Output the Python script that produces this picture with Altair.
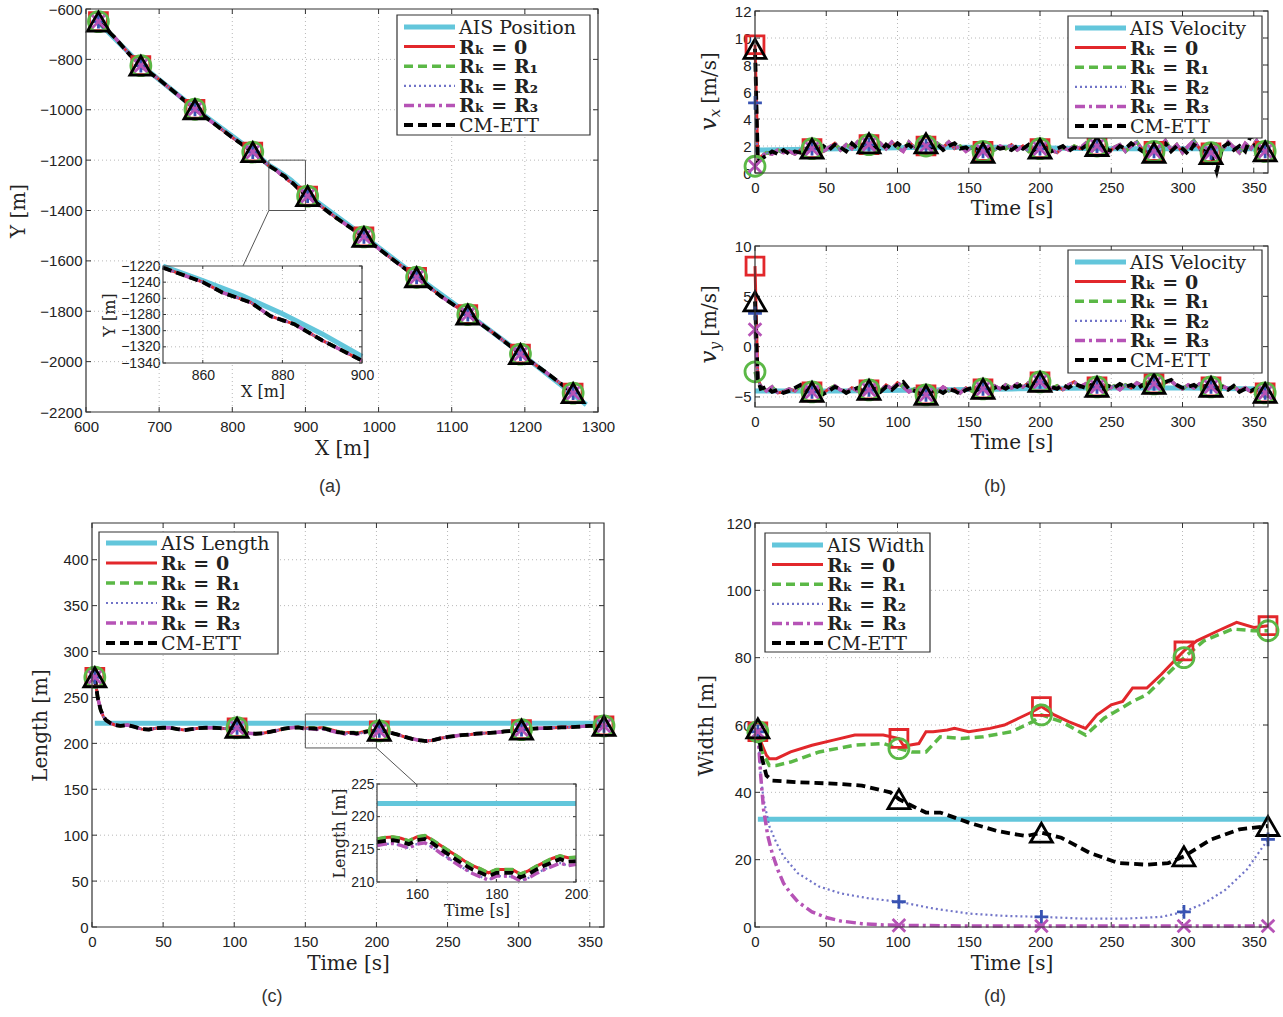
import altair as alt
import pandas as pd

SERIF = "DejaVu Serif"
SANS = "Liberation Sans"
INK = "#222222"
GRID = "#b8b8b8"
FRAME = "#333333"
CANVAS_W, CANVAS_H = 1283, 1017

# ---------------------------------------------------------------- styles
SERIES = ["AIS", "R0", "R1", "R2", "R3", "CM"]
EST = ["R0", "R1", "R2", "R3", "CM"]
COLOR = {"AIS": "#63c6db", "R0": "#e2272b", "R1": "#5bb846",
         "R2": "#7174c8", "R3": "#b653b6", "CM": "#000000"}
DASH = {"R1": [9, 5], "R2": [2, 3], "R3": [10, 4, 3, 4], "CM": [9, 5]}
WIDTH = {"AIS": 5, "R0": 3, "R1": 3.5, "R2": 2.2, "R3": 3.5, "CM": 3.8}
LABEL = {"R0": "Rₖ = 0", "R1": "Rₖ = R₁", "R2": "Rₖ = R₂",
         "R3": "Rₖ = R₃", "CM": "CM-ETT"}
MARK_SHAPE = {"R0": "square", "R1": "circle", "R2": "M-1,0L1,0M0,-1L0,1",
              "R3": "M-1,-1L1,1M-1,1L1,-1", "CM": "triangle-up"}
MARK_COLOR = {"R0": "#e2272b", "R1": "#5bb846", "R2": "#3853b3",
              "R3": "#b653b6", "CM": "#000000"}
MARK_SIZE = {"R0": 320, "R1": 400, "R2": 190, "R3": 160, "CM": 480}

# ---------------------------------------------------------------- (a) position
AIS_X = [612, 675, 749, 828, 850, 860, 870, 880, 890, 900, 980, 1052, 1122, 1194, 1284]
AIS_Y = [-638, -822, -995, -1165, -1220, -1238, -1257, -1279, -1304, -1332, -1502,
         -1662, -1810, -1967, -2171]
EST_X = [617, 640, 660, 675, 700, 725, 749, 775, 800, 828, 850, 860, 865, 872, 877,
         883, 890, 900, 903, 940, 980, 1015, 1052, 1085, 1122, 1160, 1194, 1230, 1266]
EST_Y = [-650, -715, -782, -825, -880, -940, -998, -1055, -1110, -1168, -1222, -1240,
         -1253, -1265, -1282, -1292, -1312, -1337, -1343, -1425, -1505, -1585, -1665,
         -1740, -1813, -1893, -1970, -2045, -2125]
MARK_X_A = [617, 675, 749, 828, 903, 980, 1052, 1122, 1194, 1266]

# ---------------------------------------------------------------- (b) velocity
TIME_B = [0, 2] + list(range(4, 357, 4)) + [358]
MARK_T_B = [0, 40, 80, 120, 160, 200, 240, 280, 320, 358]
T_AIS_B = [0, 60, 120, 180, 240, 300, 358]
VX_AIS = [1.7, 1.8, 1.9, 1.9, 1.8, 1.8, 1.8]
VY_AIS = [-4.4, -4.4, -4.3, -4.2, -4.1, -4.1, -4.2]
# first two samples (t = 0 s, 2 s) of each estimate
VX_START = {"R0": [9.5, 1.0], "R1": [0.5, 0.8], "R2": [5.2, 0.9], "R3": [0.5, 0.8], "CM": [9.2, 0.9]}
VY_START = {"R0": [8.0, -3.2], "R1": [-2.5, -3.6], "R2": [3.3, -3.4], "R3": [1.7, -3.5], "CM": [4.5, -3.3]}
VX_EST = [1.2, 1.5, 1.4, 1.7, 1.5, 1.6, 1.4, 1.7, 1.5, 1.8,
          2.0, 1.6, 1.9, 2.2, 1.7, 2.1, 1.8, 2.3, 1.9, 2.1,
          1.7, 2.2, 1.8, 2.3, 1.9, 1.6, 2.3, 1.9, 2.2, 2.0,
          1.7, 2.2, 1.9, 2.3, 1.8, 2.0, 1.6, 1.9, 1.5, 1.6,
          1.9, 1.7, 2.0, 1.8, 2.1, 1.7, 2.0, 1.6, 1.9, 1.8,
          2.1, 1.7, 1.5, 1.9, 1.7, 2.0, 1.8, 2.2, 1.6, 2.0,
          1.8, 1.5, 1.9, 2.1, 1.6, 2.0, 2.3, 1.7, 1.4, 1.6,
          2.0, 2.4, 1.7, 2.1, 1.5, 2.0, 2.4, 1.8, 1.3, 1.5,
          2.1, 1.7, 2.3, 1.9, 1.5, 2.2, 1.8, 2.4, 1.7,
          1.6]
VX_CM = [1.0, 1.3, 1.6, 1.4, 1.7, 1.4, 1.6, 1.5, 1.8, 1.8,
         1.6, 2.0, 1.7, 2.1, 1.9, 1.6, 2.2, 1.8, 2.1, 2.2,
         1.9, 1.6, 2.1, 1.8, 2.2, 1.9, 2.1, 1.7, 2.3, 2.2,
         1.9, 2.1, 1.7, 2.0, 2.2, 1.8, 1.9, 1.6, 1.8, 1.5,
         1.7, 2.0, 1.8, 1.9, 1.7, 2.0, 1.8, 2.1, 1.7, 1.8,
         1.9, 1.6, 1.8, 2.0, 1.6, 1.9, 1.7, 2.0, 1.8, 2.0,
         2.2, 1.7, 1.6, 2.0, 1.8, 2.2, 1.9, 1.6, 1.8, 1.5,
         1.9, 2.2, 1.6, 2.0, 1.8, 1.4, 2.1, 1.8, 1.6, 1.4,
         0.1, 1.9, 2.2, 1.7, 2.0, 1.6, 2.8, 1.8, 2.0,
         1.6]
VY_EST = [-3.9, -4.4, -4.0, -4.6, -4.5, -4.2, -4.4, -3.9, -4.3, -4.5,
          -4.1, -4.6, -4.2, -3.9, -4.3, -4.5, -4.1, -4.4, -4.6, -4.3,
          -4.0, -4.4, -3.8, -4.2, -3.6, -4.0, -4.5, -4.2, -4.6, -4.8,
          -4.3, -4.5, -4.0, -4.4, -4.2, -4.6, -4.1, -4.4, -4.0, -4.2,
          -4.4, -3.9, -4.2, -3.8, -4.1, -3.7, -4.0, -3.6, -3.9, -3.5,
          -3.8, -4.2, -3.9, -4.3, -3.8, -3.5, -4.0, -3.7, -4.2, -4.0,
          -3.8, -4.2, -3.9, -4.3, -3.8, -4.1, -3.6, -3.9, -3.5, -3.7,
          -4.0, -3.6, -3.4, -3.9, -4.2, -3.8, -4.1, -3.7, -4.0, -4.0,
          -4.3, -3.9, -4.2, -4.0, -4.4, -4.1, -4.5, -4.2, -4.6,
          -4.6]
VY_CM = [-4.2, -4.0, -4.5, -4.3, -4.6, -4.4, -4.1, -3.8, -4.4, -4.5,
         -4.3, -4.7, -4.4, -4.0, -4.2, -4.6, -4.3, -4.1, -4.5, -4.3,
         -4.2, -4.5, -4.0, -4.3, -3.8, -3.5, -4.2, -4.4, -4.7, -4.8,
         -4.5, -4.3, -4.6, -4.2, -4.4, -4.7, -4.3, -4.1, -4.3, -4.2,
         -4.5, -4.1, -3.9, -4.2, -3.8, -4.0, -3.7, -3.9, -3.6, -3.5,
         -3.7, -4.0, -4.2, -3.8, -4.1, -3.7, -3.9, -4.1, -3.8, -4.0,
         -4.2, -3.9, -4.1, -3.7, -4.0, -3.8, -4.2, -3.8, -3.6, -3.7,
         -3.9, -3.5, -3.3, -3.8, -4.1, -4.0, -3.8, -4.2, -3.9, -4.0,
         -4.2, -4.0, -4.3, -3.9, -4.5, -4.2, -4.4, -4.1, -4.5,
         -4.6]

# ---------------------------------------------------------------- (c) length
T_AIS_L = [2, 150, 200, 360]
LEN_AIS = [222, 222, 222, 222]
LEN_T_HEAD = [2, 4, 6, 8, 10, 13, 16, 20, 25, 30, 35, 40, 45, 50, 55, 60, 65, 70, 75, 80,
              85, 90, 95, 102, 105, 110, 115, 120, 125, 130, 135, 140, 145]
LEN_HEAD = [272, 250, 237, 229, 225, 222, 220, 219, 220, 218, 215.5, 215, 216.5, 217, 217,
            215.5, 214.5, 215.5, 216.5, 217, 217, 216.5, 216, 217, 214, 211, 210.5, 211,
            212.5, 214, 216, 217, 217.5]
LEN_T_MID = [150, 152, 154, 156, 158, 160, 162, 164, 166, 168, 170, 172, 174, 176, 178,
             180, 182, 184, 186, 188, 190, 192, 194, 196, 198, 200]
LEN_MID_HI = [216.6, 216.8, 216.9, 216.7, 216.3, 216.9, 217.1, 216.4, 215.6, 214.8, 214.0,
              213.2, 212.5, 212.0, 211.4, 211.9, 211.9, 211.9, 211.2, 211.7, 212.4, 213.0,
              213.6, 214.0, 213.7, 213.8]
LEN_MID_CM = [216.1, 216.3, 216.4, 216.2, 215.8, 216.4, 216.6, 215.9, 215.0, 214.2, 213.4,
              212.6, 211.9, 211.4, 210.9, 211.4, 211.4, 211.4, 210.7, 211.2, 211.9, 212.5,
              213.0, 213.5, 213.1, 213.2]
LEN_MID_LO = [215.6, 215.8, 215.9, 215.6, 215.2, 215.8, 216.0, 215.3, 214.4, 213.6, 212.8,
              212.0, 211.3, 210.8, 210.3, 210.9, 210.9, 210.8, 210.2, 210.6, 211.3, 211.9,
              212.4, 212.9, 212.5, 212.7]
LEN_T_TAIL = [202, 205, 210, 215, 220, 225, 230, 235, 240, 245, 250, 255, 260, 265, 270,
              275, 280, 285, 290, 295, 302, 305, 310, 315, 320, 325, 330, 335, 340, 345,
              350, 355, 360]
LEN_TAIL = [213.6, 213.5, 211.5, 209.5, 207, 205, 203.5, 202.5, 203.5, 205.5, 207, 208,
            209, 209.5, 210.5, 211, 211.5, 212, 213, 213.5, 215, 215.5, 216, 216.5, 216.5,
            217, 217.5, 217.5, 218, 218.5, 219, 219, 219]
LEN_MID = {"R0": LEN_MID_HI, "R1": LEN_MID_HI, "R2": LEN_MID_LO, "R3": LEN_MID_LO, "CM": LEN_MID_CM}
MARK_T_C = [2, 102, 202, 302, 360]

# ---------------------------------------------------------------- (d) width
W_T = {
    "AIS": [2, 360],
    "R0": [2, 5, 8, 10, 15, 25, 40, 55, 70, 90, 101, 104, 108, 115, 120, 125, 135, 140, 150,
           165, 175, 185, 195, 201, 210, 220, 232, 240, 250, 258, 265, 275, 285, 301, 310,
           325, 338, 350, 360],
    "R1": [2, 5, 10, 15, 25, 45, 70, 90, 101, 110, 120, 130, 145, 160, 180, 195, 201, 215,
           232, 245, 265, 275, 301, 315, 335, 350, 360],
    "R2": [2, 4, 6, 10, 15, 20, 30, 45, 60, 80, 101, 125, 150, 175, 201, 230, 260, 285, 301,
           315, 330, 345, 360],
    "R3": [2, 4, 6, 9, 12, 16, 20, 25, 30, 40, 50, 60, 75, 90, 101, 150, 201, 250, 301, 360],
    "CM": [2, 5, 8, 12, 30, 60, 75, 95, 101, 110, 120, 130, 150, 170, 190, 201, 215, 235,
           255, 275, 290, 301, 320, 340, 360],
}
W_V = {
    "AIS": [32, 32],
    "R0": [58, 54, 51, 50, 50, 52, 54, 55.5, 57, 57, 56, 54, 54, 54.5, 58, 58, 58.5, 59, 58,
           59, 60, 62, 64, 65.5, 63, 61, 59, 63, 66, 67, 71, 71, 75, 82, 85, 88, 90.5, 89,
           89.5],
    "R1": [58, 52, 48, 48, 49, 52, 54, 54.5, 53, 52, 52, 56.5, 56, 56.5, 58, 61, 63, 61, 57,
           62, 67, 69, 80, 85, 88.5, 88, 88],
    "R2": [58, 45, 38, 30, 25, 21, 16, 12, 10, 8.5, 7.5, 5.5, 4, 3.3, 3, 2.5, 2.5, 3, 4.5, 7,
           11, 17, 26],
    "R3": [58, 45, 35, 27, 22, 17, 13, 10, 7.5, 4.5, 2.8, 1.8, 1, 0.6, 0.5, 0.3, 0.3, 0.3,
           0.3, 0.3],
    "CM": [59, 50, 45, 43.5, 43, 42.5, 42, 40, 38, 36, 34, 34, 31, 28.5, 27, 28, 26.5, 22, 19,
           18.5, 19, 21, 26, 29, 30],
}
MARK_T_D = [2, 101, 201, 301, 360]

ONE = pd.DataFrame({"k": [0]})


def frame(xs, ys):
    return pd.DataFrame({"x": xs, "y": ys, "i": list(range(len(xs)))})


def line_kw(s):
    kw = dict(color=COLOR[s], strokeWidth=WIDTH[s])
    if s in DASH:
        kw["strokeDash"] = DASH[s]
    return kw


class Axes:
    """One coordinate system placed at a pixel box of the canvas."""

    def __init__(self, xdom, ydom, xr, yr, xticks, yticks, xtitle, ytitle,
                 xtp=4, ytp=9, small=False):
        self.xdom, self.ydom, self.xr, self.yr = xdom, ydom, xr, yr
        self.xticks, self.yticks = xticks, yticks
        self.tick_len = 3 if small else 5
        self.xs = alt.Scale(domain=xdom, range=xr, nice=False, zero=False)
        self.ys = alt.Scale(domain=ydom, range=yr, nice=False, zero=False)
        extra = dict(labelFontSize=14, titleFontSize=16) if small else {}
        self.xax = alt.Axis(values=xticks, format="d", title=xtitle, orient="bottom",
                            offset=-(CANVAS_H - yr[0]), grid=False, titlePadding=xtp,
                            labelPadding=5 if small else 7, **extra)
        self.yax = alt.Axis(values=yticks, format="d", title=ytitle, orient="left",
                            offset=-xr[0], grid=False, titlePadding=ytp,
                            labelPadding=3 if small else 4, **extra)

    def X(self, f="x"):
        return alt.X(f"{f}:Q", scale=self.xs, axis=self.xax)

    def Y(self, f="y"):
        return alt.Y(f"{f}:Q", scale=self.ys, axis=self.yax)

    def box(self, **mark):
        d = pd.DataFrame({"x": [self.xdom[0]], "x2": [self.xdom[1]],
                          "y": [self.ydom[0]], "y2": [self.ydom[1]]})
        return alt.Chart(d).mark_rect(**mark).encode(
            x=self.X(), x2="x2:Q", y=self.Y(), y2="y2:Q")

    def grid(self, xg, yg):
        return [
            alt.Chart(pd.DataFrame({"g": xg})).mark_rule(color=GRID, strokeDash=[1, 3])
            .encode(x=self.X("g"), y=alt.value(self.yr[1]), y2=alt.value(self.yr[0])),
            alt.Chart(pd.DataFrame({"g": yg})).mark_rule(color=GRID, strokeDash=[1, 3])
            .encode(y=self.Y("g"), x=alt.value(self.xr[0]), x2=alt.value(self.xr[1])),
        ]

    def ticks(self):
        L = self.tick_len
        tx = pd.DataFrame({"g": self.xticks})
        ty = pd.DataFrame({"g": self.yticks})
        kw = dict(color=FRAME, strokeWidth=1)
        (b, t), (l, r) = self.yr, self.xr
        return [
            alt.Chart(tx).mark_rule(**kw).encode(x=self.X("g"), y=alt.value(b), y2=alt.value(b - L)),
            alt.Chart(tx).mark_rule(**kw).encode(x=self.X("g"), y=alt.value(t), y2=alt.value(t + L)),
            alt.Chart(ty).mark_rule(**kw).encode(y=self.Y("g"), x=alt.value(l), x2=alt.value(l + L)),
            alt.Chart(ty).mark_rule(**kw).encode(y=self.Y("g"), x=alt.value(r), x2=alt.value(r - L)),
        ]

    def lines(self, frames, clip_to_domain=False):
        out = []
        for s in SERIES:
            f = frames[s]
            if clip_to_domain:
                f = f[(f["x"] >= self.xdom[0]) & (f["x"] <= self.xdom[1])]
            out.append(alt.Chart(f).mark_line(**line_kw(s))
                       .encode(order="i:Q", x=self.X(), y=self.Y()))
        return out

    def markers(self, frames, keys):
        out = []
        for s in EST:
            f = frames[s]
            pts = f[f["x"].isin(keys)]
            out.append(alt.Chart(pts).mark_point(shape=MARK_SHAPE[s], filled=False,
                                                 color=MARK_COLOR[s], strokeWidth=2.8,
                                                 size=MARK_SIZE[s], opacity=1)
                       .encode(x=self.X(), y=self.Y()))
        return out

    def zoom(self, rect, link):
        r = pd.DataFrame({"x": [rect[0]], "x2": [rect[1]], "y": [rect[2]], "y2": [rect[3]]})
        s = pd.DataFrame({"x": [link[0]], "y": [link[1]], "x2": [link[2]], "y2": [link[3]]})
        enc = dict(x=self.X(), x2="x2:Q", y=self.Y(), y2="y2:Q")
        return [alt.Chart(r).mark_rect(fillOpacity=0, stroke="#555555", strokeWidth=1).encode(**enc),
                alt.Chart(s).mark_rule(color="#555555", strokeWidth=1).encode(**enc)]

    def panel(self, frames, keys, xg, yg, extra=()):
        return alt.layer(*self.grid(xg, yg), *self.ticks(), *self.lines(frames), *extra,
                         *self.markers(frames, keys),
                         self.box(fillOpacity=0, stroke=FRAME, strokeWidth=1.2))

    def inset(self, frames, xg, yg):
        return alt.layer(self.box(fill="white"), *self.grid(xg, yg), *self.ticks(),
                         *self.lines(frames, clip_to_domain=True),
                         self.box(fillOpacity=0, stroke="#444444", strokeWidth=1.2))


def legend_layers(x0, y0, w, h, first_label, step=19.6, first=12):
    layers = [alt.Chart(ONE).mark_rect(fill="white", stroke=FRAME, strokeWidth=1.2)
              .encode(x=alt.value(x0), x2=alt.value(x0 + w),
                      y=alt.value(y0), y2=alt.value(y0 + h))]
    for i, s in enumerate(SERIES):
        yy = y0 + first + i * step
        layers.append(alt.Chart(ONE).mark_rule(**line_kw(s))
                      .encode(x=alt.value(x0 + 7), x2=alt.value(x0 + 58), y=alt.value(yy)))
        label = first_label if s == "AIS" else LABEL[s]
        layers.append(alt.Chart(ONE).mark_text(align="left", baseline="middle", font=SERIF,
                                               fontSize=19, color=INK,
                                               fontWeight="bold" if s[0] == "R" else "normal")
                      .encode(x=alt.value(x0 + 62), y=alt.value(yy + 1), text=alt.value(label)))
    return layers


def caption(text, x, y):
    return alt.Chart(ONE).mark_text(font=SANS, fontSize=18, color="#333333").encode(
        x=alt.value(x), y=alt.value(y), text=alt.value(text))


def vel_title(sub, yc, xb=716):
    kw = dict(font=SERIF, angle=270, align="center", baseline="alphabetic", color=INK)
    return [
        alt.Chart(ONE).mark_text(fontSize=23, fontStyle="italic", **kw)
        .encode(x=alt.value(xb), y=alt.value(yc), text=alt.value("v")),
        alt.Chart(ONE).mark_text(fontSize=15, fontStyle="italic", **kw)
        .encode(x=alt.value(xb + 4), y=alt.value(yc - 11), text=alt.value(sub)),
        alt.Chart(ONE).mark_text(fontSize=20, **kw)
        .encode(x=alt.value(xb), y=alt.value(yc - 46), text=alt.value("[m/s]")),
    ]


T_TICKS = list(range(0, 351, 50))
T_GRID = list(range(50, 351, 50))

# ================================================================ panel (a)
fa = {"AIS": frame(AIS_X, AIS_Y)}
for s in EST:
    fa[s] = frame(EST_X, EST_Y)
ax_a = Axes([600, 1300], [-2200, -600], [86, 598], [412, 9],
            list(range(600, 1301, 100)), list(range(-2200, -599, 200)),
            "X [m]", "Y [m]", xtp=4, ytp=11)
main_a = ax_a.panel(fa, MARK_X_A, list(range(700, 1201, 100)),
                    list(range(-2000, -799, 200)),
                    extra=ax_a.zoom([850, 900, -1400, -1200], [850, -1400, 814.7, -1620]))
in_a = Axes([850, 900], [-1340, -1220], [163, 362], [363, 266],
            [860, 880, 900], list(range(-1340, -1219, 20)), "X [m]", "Y [m]",
            xtp=1, ytp=3, small=True)
inset_a = in_a.inset(fa, [860, 880], list(range(-1320, -1239, 20)))

# ================================================================ panel (b)
fbx = {"AIS": frame(T_AIS_B, VX_AIS)}
fby = {"AIS": frame(T_AIS_B, VY_AIS)}
for s in EST:
    fbx[s] = frame(TIME_B, VX_START[s] + (VX_CM if s == "CM" else VX_EST))
    fby[s] = frame(TIME_B, VY_START[s] + (VY_CM if s == "CM" else VY_EST))
ax_b1 = Axes([0, 360], [0, 12], [755, 1268], [173, 11], T_TICKS,
             list(range(0, 13, 2)), "Time [s]", None, xtp=3)
ax_b2 = Axes([0, 360], [-6, 10], [755, 1268], [407, 246], T_TICKS,
             [-5, 0, 5, 10], "Time [s]", None, xtp=3)
main_b1 = ax_b1.panel(fbx, MARK_T_B, T_GRID, list(range(2, 11, 2)))
main_b2 = ax_b2.panel(fby, MARK_T_B, T_GRID, [-5, 0, 5])

# ================================================================ panel (c)
fc = {"AIS": frame(T_AIS_L, LEN_AIS)}
for s in EST:
    fc[s] = frame(LEN_T_HEAD + LEN_T_MID + LEN_T_TAIL, LEN_HEAD + LEN_MID[s] + LEN_TAIL)
ax_c = Axes([0, 360], [0, 440], [92, 604], [927, 523], T_TICKS,
            list(range(0, 401, 50)), "Time [s]", "Length [m]", xtp=4, ytp=12)
main_c = ax_c.panel(fc, MARK_T_C, T_GRID, list(range(50, 401, 50)),
                    extra=ax_c.zoom([150, 200, 195, 232], [200, 195, 227.8, 155.8]))
in_c = Axes([150, 200], [210, 225], [377, 576], [882, 784],
            [160, 180, 200], [210, 215, 220, 225], "Time [s]", "Length [m]",
            xtp=1, ytp=3, small=True)
inset_c = in_c.inset(fc, [160, 180], [215, 220])

# ================================================================ panel (d)
fd = {s: frame(W_T[s], W_V[s]) for s in SERIES}
ax_d = Axes([0, 360], [0, 120], [755, 1268], [927, 523], T_TICKS,
            list(range(0, 121, 20)), "Time [s]", "Width [m]", xtp=4, ytp=9)
main_d = ax_d.panel(fd, MARK_T_D, T_GRID, list(range(20, 101, 20)))

# ================================================================ annotations
deco = alt.layer(
    *legend_layers(397, 15, 193, 120, "AIS Position"),
    *legend_layers(1068, 16, 194, 122, "AIS Velocity"),
    *legend_layers(1068, 250, 194, 123, "AIS Velocity"),
    *legend_layers(99, 532, 179, 122, "AIS Length", step=20, first=11),
    *legend_layers(765, 533, 165, 119, "AIS Width"),
    *vel_title("x", 124),
    *vel_title("y", 357),
    caption("(a)", 330, 487),
    caption("(b)", 995, 487),
    caption("(c)", 272, 997),
    caption("(d)", 995, 997),
)

chart = alt.layer(
    main_a, inset_a, main_b1, main_b2, main_c, inset_c, main_d, deco
).resolve_scale(
    x="independent", y="independent"
).properties(
    width=CANVAS_W, height=CANVAS_H, padding=0,
    autosize=alt.AutoSizeParams(type="none"),
).configure(background="white").configure_axis(
    labelFont=SANS, labelFontSize=15, labelColor=INK,
    titleFont=SERIF, titleFontSize=20, titleFontWeight="normal", titleColor=INK,
    domain=False, ticks=False, labelFlush=False, labelOverlap=False, grid=False,
).configure_view(stroke=None)

chart.save("out.html", embed_options={"renderer": "svg", "actions": False})
